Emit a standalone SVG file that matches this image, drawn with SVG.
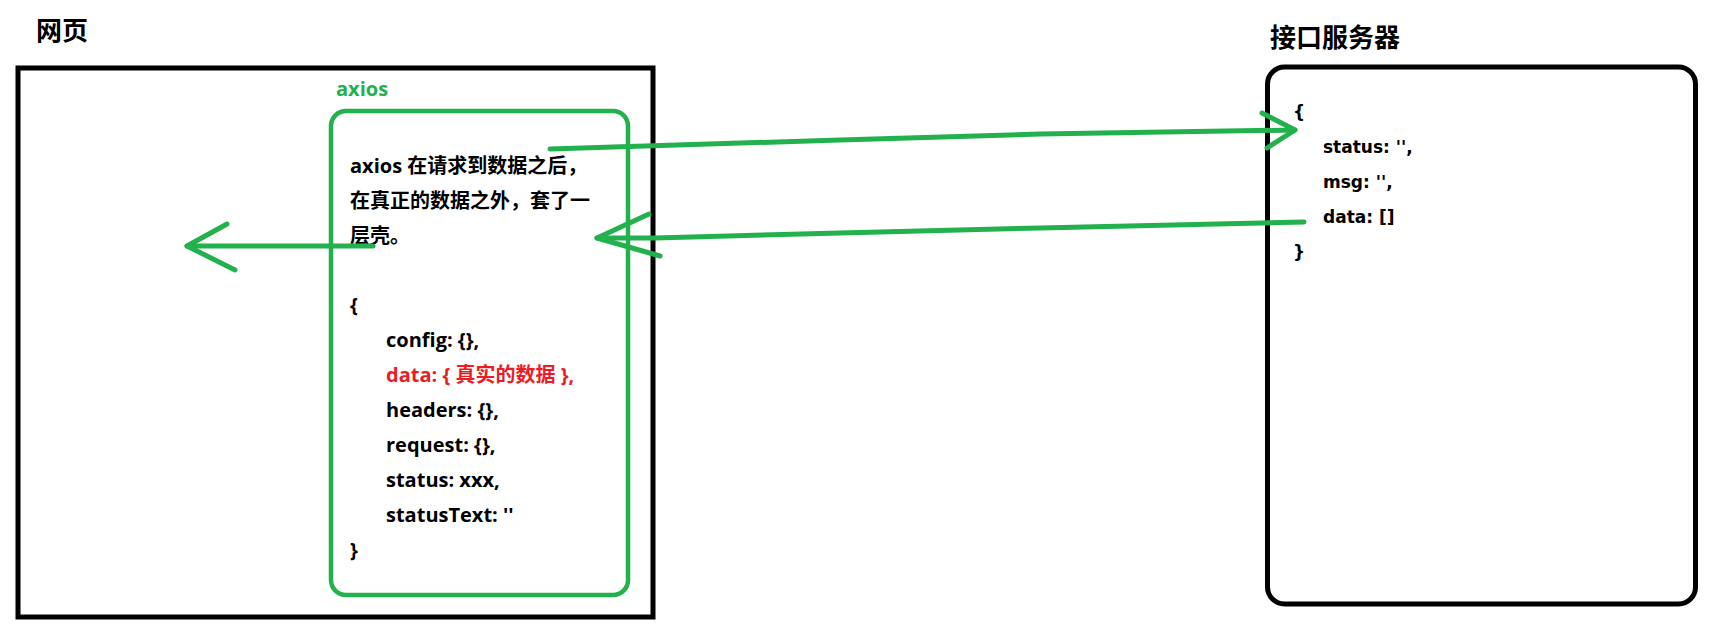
<svg xmlns="http://www.w3.org/2000/svg" width="1715" height="626" viewBox="0 0 1715 626">
<style>
.bg{fill:#ffffff}
.title{font-family:"Noto Sans CJK SC","Noto Sans",sans-serif;font-weight:bold;font-size:26px;fill:#000}
.txt{font-family:"Open Sans","Noto Sans CJK SC",sans-serif;font-weight:bold;font-size:20px;fill:#000}
.red{fill:#ED1C24}
.green{fill:#22B14C}
.srv{font-family:"DejaVu Sans","Noto Sans CJK SC",sans-serif;font-weight:bold;font-size:17px;fill:#000}
.box{fill:none;stroke:#000;stroke-width:5}
.gbox{fill:none;stroke:#22B14C;stroke-width:4.5}
.conn{fill:none;stroke:#22B14C;stroke-width:5;stroke-linecap:round;stroke-linejoin:round}
</style>
<rect class="bg" x="0" y="0" width="1715" height="626"/>
<g id="webpage">
  <text class="title" x="36" y="40">网页</text>
  <rect class="box" x="18" y="68" width="635" height="549"/>
</g>
<g id="axios">
  <text class="txt green" x="336" y="96">axios</text>
  <rect class="gbox" x="331" y="111" width="297" height="484" rx="15" ry="15"/>
  <text class="txt" x="350" y="173">axios 在请求到数据之后，</text>
  <text class="txt" x="350" y="208">在真正的数据之外，套了一</text>
  <text class="txt" x="350" y="243">层壳。</text>
  <text class="txt" x="350" y="312">{</text>
  <text class="txt" x="386" y="347">config: {},</text>
  <text class="txt red" x="386" y="382">data: { 真实的数据 },</text>
  <text class="txt" x="386" y="417">headers: {},</text>
  <text class="txt" x="386" y="452">request: {},</text>
  <text class="txt" x="386" y="487">status: xxx,</text>
  <text class="txt" x="386" y="522">statusText: ''</text>
  <text class="txt" x="350" y="557">}</text>
</g>
<g id="server">
  <text class="title" x="1270" y="47">接口服务器</text>
  <rect class="box" x="1267.5" y="67" width="428" height="537" rx="17" ry="17"/>
  <text class="srv" x="1293" y="118">{</text>
  <text class="srv" x="1323" y="153">status: '',</text>
  <text class="srv" x="1323" y="188">msg: '',</text>
  <text class="srv" x="1323" y="223">data: []</text>
  <text class="srv" x="1293" y="258">}</text>
</g>
<g id="connectors">
  <polyline class="conn" points="550,149 840,140 1040,134 1295,130"/>
  <polyline class="conn" points="1262,113 1295,130 1267,148"/>
  <polyline class="conn" points="1304,222 1040,228 840,233 655,238 597,238"/>
  <polyline class="conn" points="649,214 597,238 660,256"/>
  <polyline class="conn" points="373,246 187,246"/>
  <polyline class="conn" points="227,224 187,246 235,270"/>
</g>
</svg>
